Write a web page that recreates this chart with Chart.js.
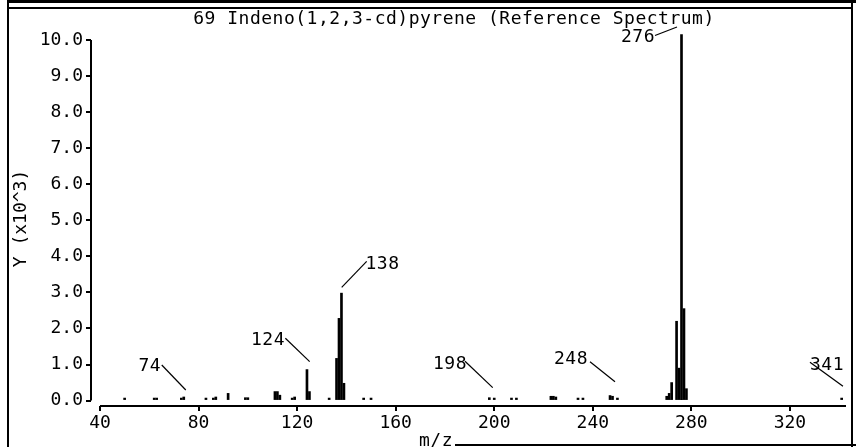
<!DOCTYPE html>
<html>
<head>
<meta charset="utf-8">
<title>69 Indeno(1,2,3-cd)pyrene</title>
<script src="https://cdn.jsdelivr.net/npm/chart.js@4.4.1/dist/chart.umd.min.js"></script>
<style>
  html, body { margin: 0; padding: 0; background: #ffffff; }
  #spectrum { display: block; }
</style>
</head>
<body>
<canvas id="spectrum" width="856" height="447"></canvas>
<script>
// Mass spectrum 69: Indeno(1,2,3-cd)pyrene, reference spectrum.
// Abundances are in thousands (Y x10^3).

var peakMz = [50, 62, 63, 73, 74, 83, 86, 87, 92, 99, 100, 111, 112, 113, 118, 119,
  124, 125, 133, 136, 137, 138, 139, 147, 150, 198, 200, 207, 209, 223, 224, 225,
  234, 236, 247, 248, 250, 270, 271, 272, 274, 275, 276, 277, 278, 341];

var peakAbundance = [0.07, 0.07, 0.07, 0.07, 0.1, 0.07, 0.07, 0.1, 0.2, 0.08, 0.08, 0.25, 0.25, 0.15, 0.07, 0.1,
  0.86, 0.25, 0.07, 1.17, 2.28, 2.98, 0.48, 0.07, 0.07, 0.08, 0.07, 0.07, 0.07, 0.12, 0.12, 0.1,
  0.07, 0.07, 0.14, 0.12, 0.07, 0.12, 0.2, 0.5, 2.2, 0.9, 10.15, 2.55, 0.33, 0.07];

// Peaks that carry an m/z label
var labeledMz = [74, 124, 138, 198, 248, 276, 341];

var xTickValues = [40, 80, 120, 160, 200, 240, 280, 320];
var yTickValues = [0, 1, 2, 3, 4, 5, 6, 7, 8, 9, 10];

var FONT = "'DejaVu Sans Mono', monospace";

// Where each m/z label sits relative to the top of its peak (pixels):
// text centre, then leader line start and end.
var labelPlacement = {
  74:  { text: [-34, -30.5],  line: [-22, -32, 2, -7] },
  124: { text: [-39, -29.6],  line: [-21.6, -31.3, 2.7, -7.9] },
  138: { text: [41, -29],     line: [25.2, -31.7, 0.2, -5.7] },
  198: { text: [-39.3, -33.1], line: [-24.3, -36.4, 3.4, -10.1] },
  248: { text: [-41.5, -37.3], line: [-22.5, -34.6, 2.5, -14.6] },
  276: { text: [-43.5, 2.4],  line: [-26.5, 0.9, -4.5, -7.6] },
  341: { text: [-14.7, -32.8], line: [-31.7, -35.8, 1.3, -11.8] }
};

var points = peakMz.map(function(mz, i) { return { x: mz, y: peakAbundance[i] }; });

function abundanceAt(mz) {
  var i = peakMz.indexOf(mz);
  return i >= 0 ? peakAbundance[i] : 0;
}

// Frame, detached axis lines, title, x-axis caption and peak labels
var spectrumDecor = {
  id: 'spectrumDecor',
  afterDraw: function(chart) {
    var ctx = chart.ctx;
    var area = chart.chartArea;
    var xs = chart.scales.x;
    var ys = chart.scales.y;
    ctx.save();
    ctx.strokeStyle = '#000';
    ctx.fillStyle = '#000';

    // page frame
    ctx.lineWidth = 3;
    ctx.beginPath();
    ctx.moveTo(8, 1.5); ctx.lineTo(856, 1.5);
    ctx.stroke();
    ctx.lineWidth = 2;
    ctx.beginPath();
    ctx.moveTo(8, 8); ctx.lineTo(852, 8);
    ctx.moveTo(8, 0); ctx.lineTo(8, 447);
    ctx.moveTo(852, 0); ctx.lineTo(852, 447);
    ctx.moveTo(455, 445); ctx.lineTo(856, 445);
    ctx.stroke();

    // axis lines
    ctx.lineWidth = 2;
    ctx.beginPath();
    ctx.moveTo(area.left, ys.getPixelForValue(yTickValues[yTickValues.length - 1]));
    ctx.lineTo(area.left, ys.getPixelForValue(yTickValues[0]));
    ctx.moveTo(xs.getPixelForValue(xTickValues[0]), area.bottom);
    ctx.lineTo(area.right, area.bottom);
    ctx.stroke();

    if ('letterSpacing' in ctx) ctx.letterSpacing = '0.5px';
    ctx.font = '18px ' + FONT;
    ctx.textAlign = 'center';
    ctx.textBaseline = 'middle';
    ctx.fillText('69 Indeno(1,2,3-cd)pyrene (Reference Spectrum)', 454, 19);
    ctx.textBaseline = 'alphabetic';
    ctx.fillText('m/z', 436, 446);

    // peak labels with leader lines
    ctx.textBaseline = 'middle';
    ctx.lineWidth = 1.2;
    labeledMz.forEach(function(mz) {
      var place = labelPlacement[mz];
      if (!place) return;
      var px = xs.getPixelForValue(mz);
      var py = ys.getPixelForValue(abundanceAt(mz));
      ctx.beginPath();
      ctx.moveTo(px + place.line[0], py + place.line[1]);
      ctx.lineTo(px + place.line[2], py + place.line[3]);
      ctx.stroke();
      ctx.fillText(String(mz), px + place.text[0], py + place.text[1]);
    });
    ctx.restore();
  }
};

Chart.defaults.font.family = FONT;
Chart.defaults.color = '#000';

var ctx = document.getElementById('spectrum').getContext('2d');
new Chart(ctx, {
  type: 'bar',
  data: {
    datasets: [{
      data: points,
      backgroundColor: '#000',
      borderWidth: 0,
      barThickness: 2
    }]
  },
  options: {
    responsive: false,
    animation: false,
    devicePixelRatio: 1,
    layout: { padding: { top: 31, right: 10, bottom: 0, left: 0 } },
    plugins: {
      legend: { display: false },
      tooltip: { enabled: false },
      title: { display: false }
    },
    scales: {
      x: {
        type: 'linear',
        min: 36.35,
        max: 342.76,
        offset: false,
        afterFit: function(scale) { scale.height = 41; },
        afterBuildTicks: function(scale) {
          scale.ticks = xTickValues.map(function(v) { return { value: v }; });
        },
        grid: { display: true, offset: false, drawOnChartArea: false, drawTicks: true, tickLength: 5, lineWidth: 2, color: '#000' },
        border: { display: false },
        ticks: {
          font: { size: 18 },
          color: '#000',
          padding: 2,
          maxRotation: 0,
          autoSkip: false,
          callback: function(v) { return String(v); }
        }
      },
      y: {
        min: -0.15,
        max: 10.25,
        afterFit: function(scale) { scale.width = 91; },
        afterBuildTicks: function(scale) {
          scale.ticks = yTickValues.map(function(v) { return { value: v }; });
        },
        grid: { display: true, drawOnChartArea: false, drawTicks: true, tickLength: 5, lineWidth: 2, color: '#000' },
        border: { display: false },
        ticks: {
          font: { size: 18 },
          color: '#000',
          padding: 3,
          autoSkip: false,
          callback: function(v) { return v.toFixed(1); }
        },
        title: {
          display: true,
          text: 'Y (x10^3)',
          font: { size: 18 },
          color: '#000',
          padding: { top: 11, bottom: 0 }
        }
      }
    }
  },
  plugins: [spectrumDecor]
});
</script>
</body>
</html>
